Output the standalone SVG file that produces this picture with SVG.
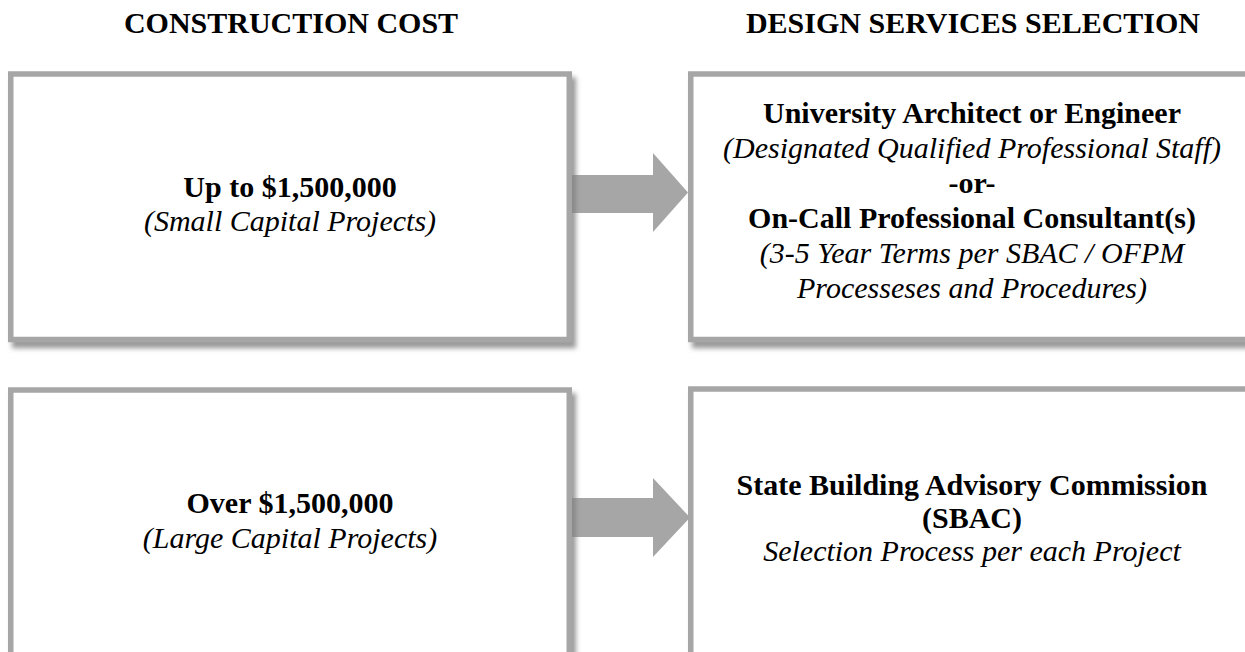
<svg xmlns="http://www.w3.org/2000/svg" width="1245" height="652" viewBox="0 0 1245 652">
  <defs>
    <filter id="shadow" x="-5%" y="-5%" width="115%" height="120%">
      <feDropShadow dx="4" dy="6" stdDeviation="2.5" flood-color="#808080" flood-opacity="0.8"/>
    </filter>
  </defs>
  <style>
    .box { fill: #ffffff; stroke: #a6a6a6; stroke-width: 5.5; filter: url(#shadow); }
    .arrow { fill: #a6a6a6; }
    text { font-family: "Liberation Serif", "Times New Roman", serif; font-size: 30px; fill: #000000; text-anchor: middle; }
    .b { font-weight: bold; }
    .i { font-style: italic; }
  </style>
  <rect width="1245" height="652" fill="#ffffff"/>

  <g id="title-cost">
    <text class="b" x="291" y="33">CONSTRUCTION COST</text>
  </g>
  <g id="title-design">
    <text class="b" x="973" y="33">DESIGN SERVICES SELECTION</text>
  </g>

  <g id="connectors">
    <polygon class="arrow" points="572,175 653,175 653,153 688,192.5 653,232 653,213 572,213"/>
    <polygon class="arrow" points="572,498 653,498 653,478 690,517.5 653,557 653,537 572,537"/>
  </g>

  <g id="node-small">
    <rect class="box" x="10.75" y="74" width="558.5" height="265.5"/>
    <text class="b" x="290" y="197">Up to $1,500,000</text>
    <text class="i" x="290" y="231">(Small Capital Projects)</text>
  </g>

  <g id="node-design-small">
    <rect class="box" x="690.75" y="74" width="565" height="265.5"/>
    <text class="b" x="972" y="123">University Architect or Engineer</text>
    <text class="i" x="972" y="158">(Designated Qualified Professional Staff)</text>
    <text class="b" x="972" y="193">-or-</text>
    <text class="b" x="972" y="228">On-Call Professional Consultant(s)</text>
    <text class="i" x="972" y="263">(3-5 Year Terms per SBAC / OFPM</text>
    <text class="i" x="972" y="298">Processeses and Procedures)</text>
  </g>

  <g id="node-large">
    <rect class="box" x="10.75" y="390" width="558.5" height="275"/>
    <text class="b" x="290" y="513">Over $1,500,000</text>
    <text class="i" x="290" y="548">(Large Capital Projects)</text>
  </g>

  <g id="node-design-large">
    <rect class="box" x="690.75" y="389" width="565" height="276"/>
    <text class="b" x="972" y="495">State Building Advisory Commission</text>
    <text class="b" x="972" y="528">(SBAC)</text>
    <text class="i" x="972" y="561">Selection Process per each Project</text>
  </g>
</svg>
